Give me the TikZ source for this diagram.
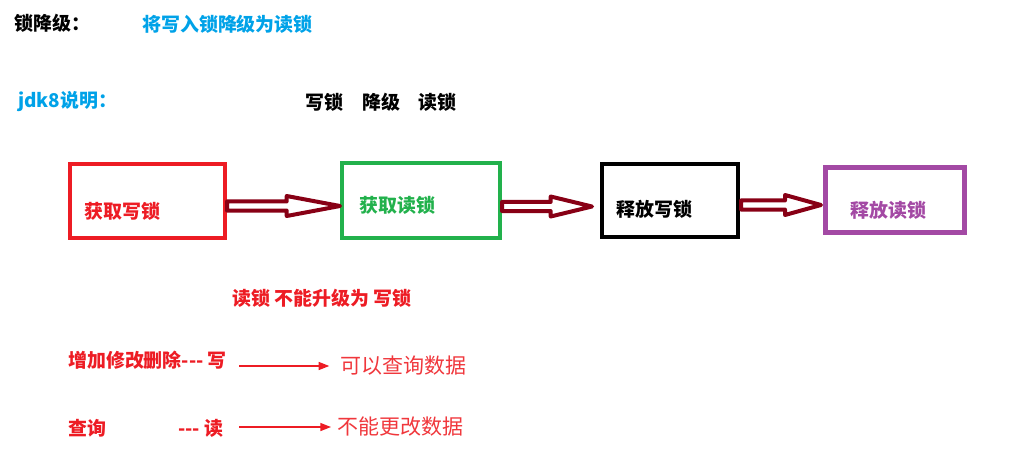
\documentclass[tikz,border=0pt]{standalone}
\usepackage{fontspec}
\newfontfamily\cjk{Noto Sans CJK SC}
\usetikzlibrary{arrows.meta,calc}
\definecolor{lockred}{RGB}{237,28,36}
\definecolor{notered}{RGB}{240,55,60}
\definecolor{lockgreen}{RGB}{34,177,76}
\definecolor{lockpurple}{RGB}{163,73,164}
\definecolor{arrowdark}{RGB}{136,0,21}
\definecolor{titleblue}{RGB}{0,162,232}
% hollow block arrow: from, to, head length
\newcommand\fatarrow[3]{\draw[fatline]let\p1=(#1),\p2=(#2)in
  (\x1,\y1+3.4pt)--(\x2-#3,\y1+3.4pt)--(\x2-#3,\y1+7.5pt)--(\x2,\y1)
  --(\x2-#3,\y1-7.5pt)--(\x2-#3,\y1-3.4pt)--(\x1,\y1-3.4pt)--cycle;}
\begin{document}
\begin{tikzpicture}[x=.75pt,y=-.75pt,
  txt/.style={inner sep=0,anchor=west,font=\cjk\bfseries\fontsize{14.2}{16}\selectfont},
  note/.style={inner sep=0,anchor=west,notered,font=\cjk\fontsize{15.75}{18}\selectfont},
  lockbox/.style={draw,line width=3pt,inner sep=0},
  fatline/.style={draw=arrowdark,line width=3pt,line join=round},
  thinarr/.style={-{Triangle[length=8pt,width=6pt]},line width=1.1pt,lockred}]
\useasboundingbox(0,0)rectangle(1018,468);
% headings
\node(title)at(14,23)[txt]{锁降级：};
\node(desc)at(142,24)[txt,titleblue]{将写入锁降级为读锁};
\node(jdk)at(18,102)[txt,titleblue]{jdk8说明：};
\node(flow)at(305,102)[txt]{写锁\quad 降级\quad 读锁};
% the four steps
\node(b1)at(147.5,201)[lockbox,lockred,minimum width=116.25pt,minimum height=55.5pt]{};
\node(b2)at(421,200.5)[lockbox,lockgreen,minimum width=118.5pt,minimum height=56.25pt]{};
\node(b3)at(670,200.5)[lockbox,black,minimum width=102pt,minimum height=54.75pt]{};
\node(b4)at(895,200)[lockbox,lockpurple,line width=3.75pt,minimum width=104.25pt,minimum height=48.75pt]{};
\node(t1)at(84,211)[txt,lockred]{获取写锁};
\node(t2)at(359,205)[txt,lockgreen]{获取读锁};
\node(t3)at(616,209)[txt]{释放写锁};
\node(t4)at(850,210)[txt,lockpurple]{释放读锁};
\fatarrow{[shift={(0,5)}]b1.east}{[shift={(0,5)}]b2.west}{40pt}
\fatarrow{[shift={(0,6)}]b2.east}{[shift={(-8,6)}]b3.west}{31pt}
\fatarrow{[shift={(1,4.5)}]b3.east}{[shift={(-2,4.5)}]b4.west}{27pt}
% notes
\node(noup)at(232,298)[txt,lockred]{读锁 不能升级为 写锁};
\node(w1)at(68,360)[txt,lockred]{增加修改删除--- 写};
\node(r1)at(340,366)[note]{可以查询数据};
\draw[thinarr,shorten <=9pt,shorten >=8pt](w1.east|-r1.west)--(r1.west);
\node(q1)at(68,428)[txt,lockred]{查询\hspace{54pt}--- 读};
\node(r2)at(337,427)[note]{不能更改数据};
\draw[thinarr,shorten <=12pt,shorten >=4.5pt](q1.east|-r2.west)--(r2.west);
\end{tikzpicture}
\end{document}
